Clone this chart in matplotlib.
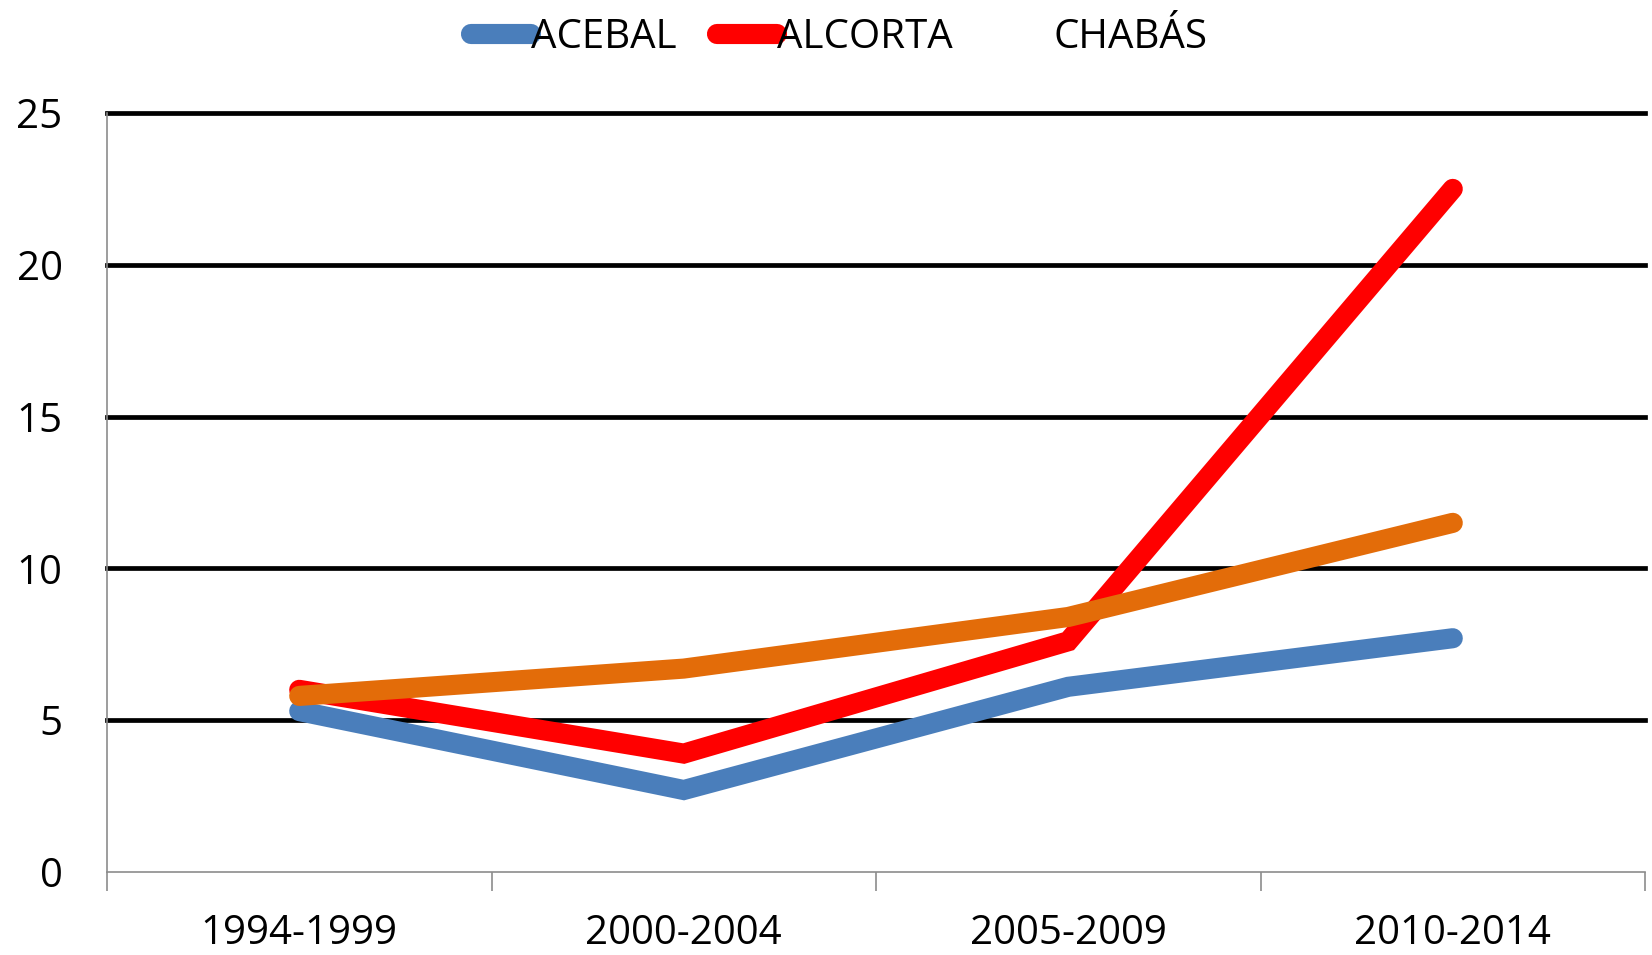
import numpy as np
import matplotlib.pyplot as plt
from matplotlib.lines import Line2D

periods = ['1994-1999', '2000-2004', '2005-2009', '2010-2014']
acebal = [5.3, 2.7, 6.1, 7.7]
alcorta = [6.0, 3.9, 7.6, 22.5]
chabas = [5.8, 6.7, 8.4, 11.5]
y_ticks = [0, 5, 10, 15, 20, 25]

plt.rcParams['font.family'] = ['Open Sans', 'DejaVu Sans']

fig = plt.figure(figsize=(16.52, 9.55), dpi=100)
ax = fig.add_axes([107 / 1652, 1 - 872 / 955, (1645 - 107) / 1652, (872 - 113) / 955])

x = np.arange(len(periods))
lw = 14.5
ax.plot(x, acebal, color='#4A7EBB', lw=lw, solid_capstyle='round', solid_joinstyle='miter', zorder=3)
ax.plot(x, alcorta, color='#FF0000', lw=lw, solid_capstyle='round', solid_joinstyle='miter', zorder=4)
ax.plot(x, chabas, color='#E36C09', lw=lw, solid_capstyle='round', solid_joinstyle='miter', zorder=5)

ax.set_xlim(-0.5, 3.5)
ax.set_ylim(0, 25)
ax.set_yticks(y_ticks)
ax.set_yticklabels([str(v) for v in y_ticks], fontsize=29)
ax.tick_params(axis='y', length=0, pad=32)
for v in y_ticks[1:]:
    ax.axhline(v, color='black', lw=3.4, zorder=1, clip_on=False)

ax.set_xticks(x)
ax.set_xticklabels(periods, fontsize=29)
ax.tick_params(axis='x', which='major', length=0, pad=30)
ax.set_xticks(np.arange(-0.5, 4, 1), minor=True)
ax.tick_params(axis='x', which='minor', length=14, width=1.2, color='#8C8C8C')

for s in ['top', 'right']:
    ax.spines[s].set_visible(False)
for s in ['left', 'bottom']:
    ax.spines[s].set_color('#8C8C8C')
    ax.spines[s].set_linewidth(1.2)

handles = [
    Line2D([], [], color='#4A7EBB', lw=lw, solid_capstyle='round'),
    Line2D([], [], color='#FF0000', lw=lw, solid_capstyle='round'),
    Line2D([], [], color='none', lw=lw),
]
fig.legend(handles, ['ACEBAL', 'ALCORTA', 'CHABÁS'], loc='upper center',
           bbox_to_anchor=(0.508, 1.02), ncol=3, frameon=False, fontsize=29,
           handlelength=1.5, handletextpad=0.0, columnspacing=1.0)

fig.savefig('out.png', dpi=100)
